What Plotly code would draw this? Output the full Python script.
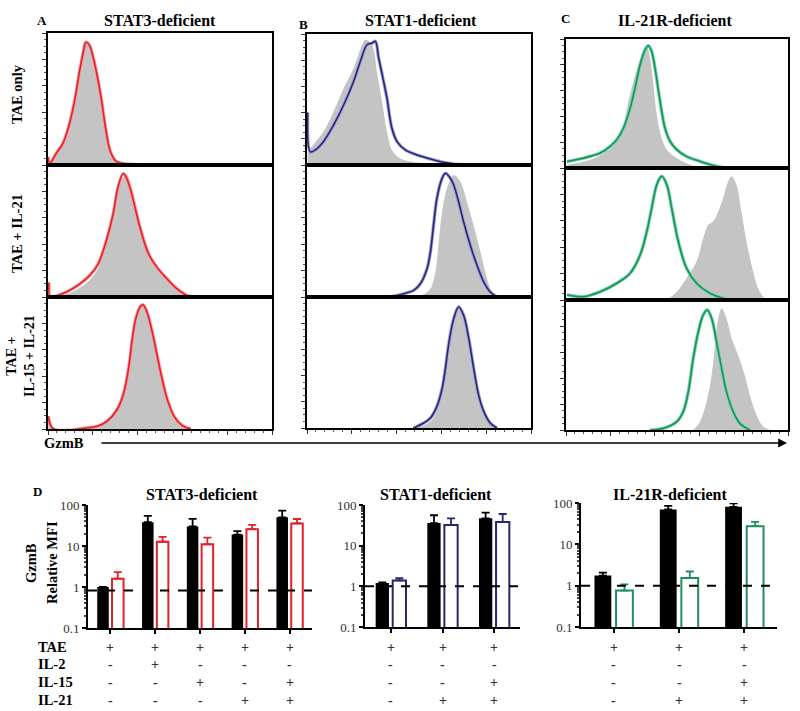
import plotly.graph_objects as go

W, H = 800, 711
FONT = "Liberation Serif"

# ---- histogram data (x: fraction of box width, y: fraction of row height) ----
col_titles = ["STAT3-deficient", "STAT1-deficient", "IL-21R-deficient"]
col_letters = ["A", "B", "C"]
row_labels = ["TAE only", "TAE + IL-21", "TAE +<br>IL-15 + IL-21"]
line_colors = ["#e3202b", "#28286e", "#1f8f5c"]
halo_colors = ["#f59a9a", "#a0a0dc", "#6fd6a8"]

a1_x = [0.0, 0.008, 0.037, 0.067, 0.097, 0.119, 0.142, 0.157, 0.169, 0.184, 0.201, 0.219, 0.239, 0.258, 0.279, 0.306, 0.35, 0.425]
a1_line = [0.06, 0.013, 0.09, 0.165, 0.32, 0.49, 0.72, 0.85, 0.93, 0.91, 0.82, 0.68, 0.49, 0.27, 0.10, 0.025, 0.008, 0.0]
a1_gray = [0.04, 0.01, 0.08, 0.16, 0.31, 0.48, 0.70, 0.85, 0.94, 0.93, 0.85, 0.72, 0.53, 0.31, 0.12, 0.03, 0.01, 0.0]

a2_x = [0.004, 0.01, 0.03, 0.082, 0.142, 0.187, 0.224, 0.261, 0.291, 0.313, 0.336, 0.351, 0.373, 0.41, 0.448, 0.485, 0.53, 0.575, 0.619, 0.664]
a2_line = [0.11, 0.0, 0.005, 0.038, 0.10, 0.165, 0.25, 0.43, 0.63, 0.835, 0.935, 0.90, 0.785, 0.53, 0.33, 0.228, 0.14, 0.063, 0.013, 0.0]
a2_gray = [0.05, 0.0, 0.0, 0.02, 0.07, 0.13, 0.22, 0.40, 0.60, 0.80, 0.91, 0.93, 0.84, 0.58, 0.36, 0.24, 0.14, 0.05, 0.01, 0.0]

a3_x = [0.0015, 0.024, 0.174, 0.219, 0.263, 0.308, 0.338, 0.361, 0.376, 0.391, 0.413, 0.425, 0.443, 0.466, 0.488, 0.51, 0.533, 0.563, 0.60, 0.638]
a3_line = [0.096, 0.0, 0.008, 0.02, 0.058, 0.146, 0.273, 0.475, 0.677, 0.83, 0.93, 0.94, 0.88, 0.73, 0.55, 0.374, 0.222, 0.096, 0.025, 0.0]
a3_gray = [0.04, 0.0, 0.005, 0.015, 0.05, 0.135, 0.26, 0.46, 0.67, 0.83, 0.94, 0.95, 0.90, 0.75, 0.56, 0.38, 0.23, 0.10, 0.03, 0.0]

b1_x = [0.003, 0.015, 0.037, 0.074, 0.119, 0.164, 0.208, 0.238, 0.268, 0.29, 0.305, 0.32, 0.342, 0.357, 0.379, 0.402, 0.439, 0.491, 0.551, 0.61, 0.67, 0.73]
b1_line = [0.40, 0.10, 0.115, 0.18, 0.306, 0.46, 0.638, 0.79, 0.918, 0.93, 0.944, 0.816, 0.638, 0.51, 0.28, 0.178, 0.115, 0.077, 0.046, 0.02, 0.005, 0.0]
b1_gray_x = [0.003, 0.045, 0.074, 0.119, 0.164, 0.208, 0.246, 0.26, 0.29, 0.3125, 0.335, 0.357, 0.379, 0.417, 0.491, 0.595, 0.65]
b1_gray = [0.10, 0.19, 0.255, 0.41, 0.587, 0.74, 0.918, 0.957, 0.918, 0.71, 0.485, 0.255, 0.115, 0.05, 0.02, 0.005, 0.0]

b2_x = [0.372, 0.432, 0.476, 0.506, 0.536, 0.551, 0.565, 0.58, 0.603, 0.618, 0.64, 0.655, 0.677, 0.699, 0.729, 0.759, 0.789, 0.818, 0.848]
b2_line = [0.0, 0.025, 0.05, 0.10, 0.215, 0.342, 0.544, 0.747, 0.899, 0.937, 0.899, 0.848, 0.72, 0.57, 0.392, 0.24, 0.114, 0.038, 0.0]
b2_gray_x = [0.491, 0.521, 0.551, 0.573, 0.588, 0.603, 0.625, 0.655, 0.685, 0.714, 0.744, 0.774, 0.804, 0.826, 0.848]
b2_gray = [0.0, 0.02, 0.063, 0.19, 0.418, 0.646, 0.823, 0.924, 0.873, 0.72, 0.544, 0.342, 0.139, 0.038, 0.0]

b3_x = [0.476, 0.521, 0.551, 0.58, 0.603, 0.618, 0.632, 0.655, 0.677, 0.699, 0.722, 0.744, 0.766, 0.789, 0.818, 0.848]
b3_line = [0.0, 0.038, 0.076, 0.165, 0.30, 0.456, 0.633, 0.835, 0.924, 0.861, 0.684, 0.456, 0.253, 0.127, 0.038, 0.0]
b3_gray = [0.0, 0.02, 0.05, 0.13, 0.27, 0.44, 0.63, 0.85, 0.94, 0.88, 0.70, 0.47, 0.26, 0.12, 0.03, 0.0]

c1_x = [0.0045, 0.079, 0.154, 0.199, 0.229, 0.259, 0.289, 0.311, 0.334, 0.356, 0.371, 0.386, 0.401, 0.424, 0.446, 0.469, 0.499, 0.543, 0.603, 0.663, 0.708]
c1_line = [0.05, 0.077, 0.116, 0.168, 0.22, 0.31, 0.464, 0.62, 0.80, 0.915, 0.948, 0.902, 0.773, 0.515, 0.309, 0.206, 0.142, 0.09, 0.052, 0.02, 0.005]
c1_gray_x = [0.0045, 0.109, 0.184, 0.229, 0.259, 0.281, 0.304, 0.326, 0.349, 0.364, 0.379, 0.394, 0.409, 0.431, 0.454, 0.499, 0.558, 0.618]
c1_gray = [0.026, 0.064, 0.129, 0.206, 0.335, 0.515, 0.67, 0.80, 0.902, 0.94, 0.85, 0.644, 0.412, 0.232, 0.142, 0.077, 0.026, 0.005]

c2_x = [0.0045, 0.079, 0.154, 0.229, 0.289, 0.334, 0.364, 0.386, 0.409, 0.431, 0.454, 0.476, 0.506, 0.543, 0.588, 0.648, 0.708, 0.753]
c2_line = [0.04, 0.025, 0.063, 0.127, 0.203, 0.342, 0.519, 0.696, 0.873, 0.937, 0.873, 0.696, 0.443, 0.241, 0.127, 0.051, 0.013, 0.0]
c2_gray_x = [0.454, 0.499, 0.543, 0.588, 0.618, 0.641, 0.663, 0.686, 0.708, 0.731, 0.746, 0.768, 0.79, 0.813, 0.843, 0.865, 0.888, 0.903]
c2_gray = [0.0, 0.063, 0.165, 0.291, 0.468, 0.57, 0.595, 0.67, 0.772, 0.899, 0.937, 0.873, 0.67, 0.443, 0.215, 0.089, 0.025, 0.0]

c3_x = [0.379, 0.439, 0.499, 0.528, 0.551, 0.573, 0.596, 0.618, 0.636, 0.656, 0.678, 0.701, 0.723, 0.753, 0.783, 0.828]
c3_line = [0.0, 0.013, 0.064, 0.141, 0.295, 0.551, 0.756, 0.885, 0.923, 0.859, 0.679, 0.474, 0.295, 0.141, 0.051, 0.0]
c3_gray_x = [0.573, 0.603, 0.633, 0.656, 0.671, 0.686, 0.701, 0.723, 0.746, 0.775, 0.805, 0.828, 0.858, 0.888, 0.918]
c3_gray = [0.0, 0.064, 0.218, 0.423, 0.654, 0.859, 0.936, 0.859, 0.705, 0.577, 0.423, 0.269, 0.115, 0.026, 0.0]

# [column][row] -> (line x, line y, gray x, gray y)
hist = [
    [(a1_x, a1_line, a1_x, a1_gray), (a2_x, a2_line, a2_x, a2_gray), (a3_x, a3_line, a3_x, a3_gray)],
    [(b1_x, b1_line, b1_gray_x, b1_gray), (b2_x, b2_line, b2_gray_x, b2_gray), (b3_x, b3_line, b3_x, b3_gray)],
    [(c1_x, c1_line, c1_gray_x, c1_gray), (c2_x, c2_line, c2_gray_x, c2_gray), (c3_x, c3_line, c3_gray_x, c3_gray)],
]

# ---- bar data (relative MFI, upper error) ----
d1_black = [1.0, 38, 30, 19, 50]
d1_black_err = [0.0, 16, 16, 4, 23]
d1_open = [1.6, 12.7, 11, 25.7, 35.5]
d1_open_err = [0.7, 4, 5, 7, 10]
d1_tae = ["+", "+", "+", "+", "+"]
d1_il2 = ["-", "+", "-", "-", "-"]
d1_il15 = ["-", "-", "+", "-", "+"]
d1_il21 = ["-", "-", "-", "+", "+"]

d2_black = [1.2, 36, 47]
d2_black_err = [0.05, 20, 18]
d2_open = [1.4, 32, 38]
d2_open_err = [0.2, 15, 22]

d3_black = [1.75, 70, 81]
d3_black_err = [0.32, 15, 17]
d3_open = [0.76, 1.54, 27.5]
d3_open_err = [0.32, 0.66, 7.5]

d23_tae = ["+", "+", "+"]
d23_il2 = ["-", "-", "-"]
d23_il15 = ["-", "-", "+"]
d23_il21 = ["-", "+", "+"]

treat_names = ["TAE", "IL-2", "IL-15", "IL-21"]

# ---- layout geometry (pixels) ----
boxes = [
    (48, 272, [33, 165, 297, 429]),
    (307, 531, [34, 165, 297, 428]),
    (566, 788, [39, 168, 300, 430]),
]
bar_boxes = [(88, 312, 505, 628), (365, 520, 505, 627), (581, 777, 503, 627)]


def px(x):
    return x / W


def py(y):
    return 1 - y / H


fig = go.Figure()
layout = {}
ann = []
n = 0

for c in range(3):
    L, R, ys = boxes[c]
    for r in range(3):
        n += 1
        xa, ya = ("x", "y") if n == 1 else (f"x{n}", f"y{n}")
        lx, ly, gx, gy = hist[c][r]
        fig.add_trace(go.Scatter(x=gx, y=gy, xaxis=xa, yaxis=ya, mode="lines",
                                 line=dict(width=0, shape="spline", color="#c4c4c4"),
                                 fill="tozeroy", fillcolor="#c4c4c4", showlegend=False))
        fig.add_trace(go.Scatter(x=lx, y=ly, xaxis=xa, yaxis=ya, mode="lines",
                                 line=dict(width=3.4, shape="spline", color=halo_colors[c]),
                                 showlegend=False))
        fig.add_trace(go.Scatter(x=lx, y=ly, xaxis=xa, yaxis=ya, mode="lines",
                                 line=dict(width=1.6, shape="spline", color=line_colors[c]),
                                 showlegend=False))
        key = "" if n == 1 else str(n)
        bottom = r == 2
        xax = dict(
            domain=[px(L), px(R)], range=[0, 1], anchor=ya, automargin=False,
            showline=True, mirror=True, linecolor="black", linewidth=1.6,
            showgrid=False, zeroline=False, showticklabels=False,
            ticks="outside" if bottom else "", ticklen=4, dtick=0.2, tickcolor="#333",
        )
        if bottom:
            xax["minor"] = dict(ticks="outside", ticklen=2, dtick=0.04, tickcolor="#555")
        layout["xaxis" + key] = xax
        layout["yaxis" + key] = dict(
            domain=[py(ys[r + 1]), py(ys[r])], range=[0, 1.0], anchor=xa, automargin=False,
            showline=True, mirror=True, linecolor="black", linewidth=1.6,
            showgrid=False, zeroline=False, showticklabels=False,
            ticks="outside", ticklen=4, dtick=0.2, tickcolor="#333",
            minor=dict(ticks="outside", ticklen=2, dtick=0.05, tickcolor="#555"),
        )

# column titles and letters
title_x = [160, 421, 675]
letter_pos = [(42, 20), (303, 24), (565, 19)]
for c in range(3):
    ann.append(dict(x=px(title_x[c]), y=py(21), text="<b>" + col_titles[c] + "</b>",
                    font=dict(size=16)))
    ann.append(dict(x=px(letter_pos[c][0]), y=py(letter_pos[c][1]),
                    text="<b>" + col_letters[c] + "</b>", font=dict(size=13)))

# row labels
ann.append(dict(x=px(17), y=py(94), text="<b>" + row_labels[0] + "</b>", textangle=-90, font=dict(size=14.5)))
ann.append(dict(x=px(17), y=py(234), text="<b>" + row_labels[1] + "</b>", textangle=-90, font=dict(size=14.5)))
ann.append(dict(x=px(20), y=py(356), text="<b>" + row_labels[2] + "</b>", textangle=-90, font=dict(size=14)))

# GzmB arrow
ann.append(dict(x=px(64), y=py(443), text="<b>GzmB</b>", font=dict(size=14.5)))
ann.append(dict(x=px(787), y=py(443), ax=-687, ay=0, axref="pixel", ayref="pixel",
                text="", showarrow=True, arrowhead=2, arrowsize=1.1, arrowwidth=1.6,
                arrowcolor="black"))

# ---- bar charts ----
bars = [
    (d1_black, d1_black_err, d1_open, d1_open_err, [d1_tae, d1_il2, d1_il15, d1_il21], 0.82),
    (d2_black, d2_black_err, d2_open, d2_open_err, [d23_tae, d23_il2, d23_il15, d23_il21], 1.0),
    (d3_black, d3_black_err, d3_open, d3_open_err, [d23_tae, d23_il2, d23_il15, d23_il21], 1.0),
]
bar_titles = [(202, "STAT3-deficient"), (436, "STAT1-deficient"), (670, "IL-21R-deficient")]
table_y = [647, 664, 682, 700]

for i, (blk, blk_e, opn, opn_e, table, dash_y) in enumerate(bars):
    n += 1
    xa, ya = f"x{n}", f"y{n}"
    L, R, T, B = bar_boxes[i]
    cats = list(range(len(blk)))
    fig.add_trace(go.Bar(x=cats, y=blk, xaxis=xa, yaxis=ya, marker=dict(color="black", line=dict(width=0)),
                         error_y=dict(type="data", symmetric=False, array=blk_e, arrayminus=[0] * len(blk),
                                      color="black", thickness=1.8, width=4),
                         showlegend=False))
    fig.add_trace(go.Bar(x=cats, y=opn, xaxis=xa, yaxis=ya,
                         marker=dict(color="white", line=dict(width=2, color=line_colors[i])),
                         error_y=dict(type="data", symmetric=False, array=opn_e, arrayminus=[0] * len(opn),
                                      color=line_colors[i], thickness=1.8, width=4),
                         showlegend=False))
    fig.add_trace(go.Scatter(x=[-0.5, len(blk) - 0.5], y=[dash_y, dash_y], xaxis=xa, yaxis=ya, mode="lines",
                             line=dict(color="black", width=2, dash="dash"), showlegend=False))
    layout[f"xaxis{n}"] = dict(
        domain=[px(L), px(R)], range=[-0.5, len(blk) - 0.5], anchor=ya, automargin=False,
        showline=True, linecolor="black", linewidth=2, showgrid=False, zeroline=False,
        tickvals=cats, showticklabels=False, ticks="outside", ticklen=4, tickwidth=1.5, tickcolor="black",
    )
    layout[f"yaxis{n}"] = dict(
        domain=[py(B), py(T)], type="log", range=[-1, 2], anchor=xa, automargin=False,
        showline=True, linecolor="black", linewidth=2, showgrid=False, zeroline=False,
        dtick=1, ticks="outside", ticklen=4, tickwidth=1.5, tickcolor="black",
        tickfont=dict(size=13, color="#333"),
        minor=dict(ticks="outside", ticklen=2, tickcolor="#444", showgrid=False),
    )
    ann.append(dict(x=px(bar_titles[i][0]), y=py(494), text="<b>" + bar_titles[i][1] + "</b>",
                    font=dict(size=16)))
    for row, vals in enumerate(table):
        for k, v in enumerate(vals):
            ann.append(dict(x=k, y=py(table_y[row]), xref=xa, yref="paper", text="<b>" + v + "</b>",
                            font=dict(size=14, color="#333")))

ann.append(dict(x=px(37), y=py(491), text="<b>D</b>", font=dict(size=13)))
ann.append(dict(x=px(31), y=py(563), text="<b>GzmB</b>", textangle=-90, font=dict(size=14.5)))
ann.append(dict(x=px(52), y=py(563), text="<b>Relative MFI</b>", textangle=-90, font=dict(size=14.5)))
for row, name in enumerate(treat_names):
    ann.append(dict(x=px(36), y=py(table_y[row]), text="<b>" + name + "</b>", xanchor="left",
                    font=dict(size=14.5)))

for a in ann:
    a.setdefault("xref", "paper")
    a.setdefault("yref", "paper")
    a.setdefault("showarrow", False)
    a.setdefault("xanchor", "center")
    a.setdefault("yanchor", "middle")

fig.update_layout(
    template="none",
    width=W, height=H, margin=dict(l=0, r=0, t=0, b=0, pad=0),
    paper_bgcolor="white", plot_bgcolor="white",
    font=dict(family=FONT, color="black"),
    barmode="group", bargap=0.34, bargroupgap=0.22,
    annotations=ann, **layout,
)

# page body has an 8px default margin; drop it so the figure sits at the window origin
fig.write_html("out.html", config={"displayModeBar": False},
               post_script="document.body.style.margin='0';")
